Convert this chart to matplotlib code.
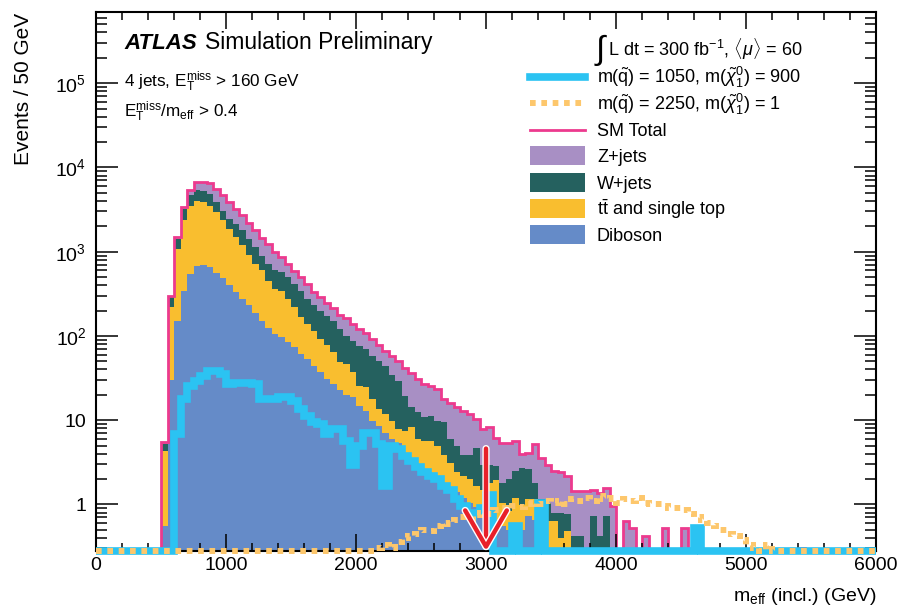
import numpy as np
import matplotlib
matplotlib.use('Agg')
import matplotlib.pyplot as plt
import matplotlib.patheffects as pe
from matplotlib.transforms import Affine2D
from matplotlib.lines import Line2D
from matplotlib.patches import Rectangle
from matplotlib.ticker import MultipleLocator, LogLocator, FuncFormatter, NullFormatter

plt.rcParams['font.family'] = ['Liberation Sans', 'DejaVu Sans']
plt.rcParams['mathtext.fontset'] = 'custom'
plt.rcParams['mathtext.rm'] = 'Liberation Sans'
plt.rcParams['mathtext.it'] = 'Liberation Sans:italic'
plt.rcParams['mathtext.bf'] = 'Liberation Sans:bold'

# 50 GeV bins from 0 to 6000 GeV
bin_width = 50
n_bins = 120

# backgrounds, events per bin, first entry is the 500-550 GeV bin
diboson = [0.55, 30, 152, 346, 547, 676, 687, 657, 562, 486,
           405, 331, 276, 230, 188, 152, 124, 106, 98, 84,
           73, 61, 53, 44, 37, 31, 27, 23, 20, 18.6,
           14.8, 12.9, 9.8, 8.6, 7.1, 5.9, 5.4, 3.8, 3.4, 2.9,
           2.6, 2.3, 2.1, 1.8, 1.6, 1.4, 1.2, 1.05, 0.92, 0.83,
           0.7, 0.66, 0.56, 0.5, 0.44, 0.5, 0.72, 0.65]
ttbar = [3.7, 190, 934, 2014, 2983, 3294, 3220, 2843, 2408, 1874,
         1473, 1165, 913, 673, 532, 447, 319, 257, 248, 192,
         147, 106, 86, 72, 55, 46, 37, 26, 26, 18.4,
         10.8, 11.6, 8.0, 4.9, 4.7, 3.9, 2.4, 3.6, 4.8, 3.0,
         3.1, 3.4, 2.8, 2.1, 1.5, 1.0, 1.0, 0.93, 0.73, 0.67,
         1.1, 1.3, 0.49, 0.33, 0.76, 0.49, 0.43, 0.5, 0.66, 0.63,
         0.63, 0.4, 0.48]
wjets = [0.9, 69, 343, 830, 1115, 1400, 1318, 1400, 937, 660,
         594, 658, 606, 526, 417, 290, 277, 236, 227, 224,
         196, 179, 137, 118, 108, 95, 88, 72, 55, 51,
         51, 45.5, 40, 37.5, 32, 25, 21, 12, 6, 6.5,
         5.1, 5.6, 4.9, 5.5, 2.8, 2.5, 1.7, 1.9, 3.0, 1.4,
         1.1, 0.9, 0.76, 1.15, 1.3, 1.7, 1.45, 0.66, 0.49, 0.42,
         0.17, 0.4, 0.28, 0.42, 0.42, 0, 0.73, 0.42, 0.73, 0,
         0, 0, 0, 0, 0, 0, 0, 0, 0, 0,
         0.3]
zjets = [0.3, 8, 67, 215, 725, 1260, 1535, 1550, 1713, 1750,
         1435, 1096, 909, 768, 658, 579, 525, 400, 300, 220,
         167, 154, 140, 97, 89, 75, 62, 57, 62, 51,
         44, 39, 34, 26, 23, 23, 22, 22, 22, 18.4,
         16, 14.3, 13.6, 8.4, 10.3, 9.3, 9.0, 7.9, 5.6, 4.9,
         5.3, 3.3, 3.6, 3.4, 3.2, 1.3, 1.5, 3.4, 2.45, 1.85,
         1.67, 1.6, 1.44, 1.02, 1.02, 1.44, 0.75, 0.96, 0.85, 0.95,
         0, 0.63, 0.53, 0, 0.42, 0, 0, 0.53, 0, 0,
         0.23, 0, 0, 0, 0, 0, 0, 0, 0, 0,
         0, 0, 0, 0, 0, 0, 0, 0, 0.3]
bkg_first_bin = 10

# signals
sig_1050 = [6.8, 17.8, 25.6, 29.4, 33.7, 38.6, 38.6, 35.3,
            26.8, 28, 28, 28, 26.8, 17.8, 17.8, 17.8, 18.6, 18.6,
            17, 13.5, 11.3, 9.4, 9.0, 6.8, 7.8, 7.8, 5.7, 2.9,
            4.9, 7.1, 7.1, 5.2, 1.65, 4.9, 4.5, 3.8, 3.3, 2.8,
            2.4, 2.2, 2.0, 1.65, 1.5, 1.15, 0.95, 0.73, 0.8, 0.9,
            1.3, 0, 0, 0, 0.55, 0, 0, 0, 1.05, 0,
            0, 0, 0, 0, 0, 0, 0, 0, 0, 0,
            0, 0, 0, 0, 0, 0, 0, 0, 0, 0,
            0, 0, 0.53]
sig_1050_first_bin = 12
sig_2250 = [0.3, 0.33, 0.3, 0.36, 0.4, 0.42, 0.45,
            0.5, 0.48, 0.55, 0.6, 0.58, 0.65, 0.7, 0.68, 0.75, 0.8,
            0.78, 0.85, 0.9, 0.88, 0.95, 0.92, 1.0, 1.05, 1.0, 1.1,
            1.05, 1.1, 1.0, 1.15, 1.1, 1.2, 1.1, 1.25, 1.15, 1.2,
            1.05, 1.15, 1.1, 1.2, 1.05, 1.0, 1.0, 0.95, 0.9, 0.9,
            0.85, 0.78, 0.7, 0.65, 0.6, 0.55, 0.5, 0.45, 0.42, 0.38,
            0.33, 0.3, 0, 0.33]
sig_2250_first_bin = 43

cut_value = 3000
arrow_top = 4.6

c_dib = '#658bc8'
c_tt = '#f9be2f'
c_w = '#25615f'
c_z = '#a88fc4'
c_sm = '#ec3a8e'
c_sig1 = '#2bc3f2'
c_sig2 = '#fdc76c'


def full(vals, start):
    out = np.zeros(n_bins)
    out[start:start + len(vals)] = vals
    return out


edges = np.arange(n_bins + 1) * bin_width
dib = full(diboson, bkg_first_bin)
tt = full(ttbar, bkg_first_bin)
wj = full(wjets, bkg_first_bin)
zj = full(zjets, bkg_first_bin)
s1 = full(sig_1050, sig_1050_first_bin)
s2 = full(sig_2250, sig_2250_first_bin)

y_min, y_max = 0.28, 7e5
floor = 1e-3

W, H = 899, 608
fig = plt.figure(figsize=(W / 100, H / 100), dpi=100)
px = Affine2D().scale(1 / W, -1 / H).translate(0, 1) + fig.transFigure
ax = fig.add_axes([96 / W, 1 - 551 / H, 780 / W, 539 / H])
ax.set_yscale('log')

# stack, drawn from the top layer down
stack = [dib, dib + tt, dib + tt + wj, dib + tt + wj + zj]
for cum, col in zip(stack[::-1], [c_z, c_w, c_tt, c_dib]):
    ax.stairs(np.maximum(cum, floor), edges, baseline=floor, fill=True,
              color=col, lw=0, zorder=1)

total = stack[-1]
ax.stairs(np.where(total > 0, total, y_min), edges, baseline=None,
          color=c_sm, lw=2.0, zorder=1.2)
ax.stairs(np.where(s1 > 0, s1, y_min), edges, baseline=None,
          color=c_sig1, lw=5.5, zorder=2.6, clip_on=False)
ax.stairs(np.where(s2 > 0, s2, y_min), edges, baseline=None,
          color=c_sig2, lw=4.3, ls=(0, (0.95, 0.95)), zorder=2.7, clip_on=False)

ax.annotate('', xy=(cut_value, y_min), xytext=(cut_value, arrow_top),
            arrowprops=dict(arrowstyle='->,head_length=2.6,head_width=1.5',
                            color='#e8202a', lw=3.2, shrinkA=0, shrinkB=0,
                            path_effects=[pe.Stroke(linewidth=5.2, foreground='white'),
                                          pe.Normal()]),
            annotation_clip=False, zorder=5)

ax.set_xlim(0, 6000)
ax.set_ylim(y_min, y_max)
ax.xaxis.set_major_locator(MultipleLocator(1000))
ax.xaxis.set_minor_locator(MultipleLocator(200))
ax.yaxis.set_major_locator(LogLocator(base=10))
ax.yaxis.set_minor_locator(LogLocator(base=10, subs=np.arange(2, 10)))
ax.yaxis.set_minor_formatter(NullFormatter())


def ylab(v, pos):
    if v < 0.5:
        return ''
    if v < 5:
        return '1'
    if v < 50:
        return '10'
    return r'$10^{%d}$' % round(np.log10(v))


ax.yaxis.set_major_formatter(FuncFormatter(ylab))
ax.tick_params(which='both', direction='in', top=True, right=True, width=1.1,
               labelsize=14)
ax.tick_params(axis='x', which='major', length=12, pad=4)
ax.tick_params(axis='x', which='minor', length=6)
ax.tick_params(axis='y', which='major', length=16, pad=7)
ax.tick_params(axis='y', which='minor', length=8)
for sp in ax.spines.values():
    sp.set_linewidth(1.5)

fig.text(24, 13, 'Events / 50 GeV', transform=px, rotation=90,
         ha='center', va='top', fontsize=15)
fig.text(876, 601, r'm$_{\mathrm{eff}}$ (incl.) (GeV)', transform=px,
         ha='right', va='baseline', fontsize=14)

fig.text(124, 49, 'ATLAS', transform=px, fontsize=16, weight='bold',
         style='italic', va='baseline')
fig.text(205, 49, 'Simulation Preliminary', transform=px, fontsize=16.5,
         va='baseline')
fig.text(124, 87, r'4 jets, $\mathrm{E}_{\mathrm{T}}^{\mathrm{miss}}$ > 160 GeV',
         transform=px, fontsize=12.3, va='baseline')
fig.text(124, 117, r'$\mathrm{E}_{\mathrm{T}}^{\mathrm{miss}}$/m$_{\mathrm{eff}}$ > 0.4',
         transform=px, fontsize=12.3, va='baseline')

# legend
fig.text(596, 59, '\u222b', transform=px, fontsize=24, va='baseline')
fig.text(608, 56, r'L dt = 300 fb$^{-1}$, $\langle\mu\rangle$ = 60',
         transform=px, fontsize=13, va='baseline')
entries = [
    ('line', dict(color=c_sig1, lw=5.5),
     r'm($\tilde{\mathrm{q}}$) = 1050, m($\tilde{\chi}^{0}_{1}$) = 900'),
    ('line', dict(color=c_sig2, lw=4.3, ls=(0, (0.95, 0.95))),
     r'm($\tilde{\mathrm{q}}$) = 2250, m($\tilde{\chi}^{0}_{1}$) = 1'),
    ('line', dict(color=c_sm, lw=2.0), 'SM Total'),
    ('box', c_z, 'Z+jets'),
    ('box', c_w, 'W+jets'),
    ('box', c_tt, r'$\mathrm{t\bar{t}}$ and single top'),
    ('box', c_dib, 'Diboson'),
]
for i, (kind, style, label) in enumerate(entries):
    yc = 77 + 26.3 * i
    if kind == 'line':
        fig.add_artist(Line2D([530, 585], [yc, yc], transform=px, **style))
    else:
        fig.add_artist(Rectangle((530, yc - 9.5), 55, 19, transform=px,
                                 color=style, lw=0))
    fig.text(597, yc + 6.5, label, transform=px, fontsize=13, va='baseline')

fig.savefig('out.png', dpi=100)
